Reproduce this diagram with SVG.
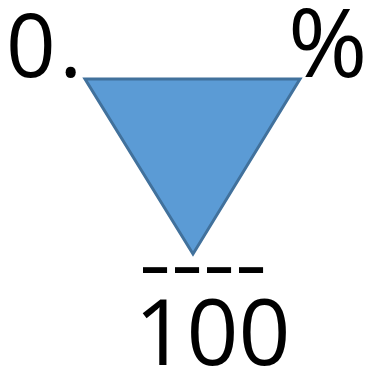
<svg xmlns="http://www.w3.org/2000/svg" width="366" height="376" viewBox="0 0 366 376">
<style>
.t{font-family:"Open Sans","Liberation Sans",sans-serif;fill:#000}
.tri{fill:#5B9BD5;stroke:#41719C;stroke-width:3;stroke-linejoin:miter}
</style>
<rect width="366" height="376" fill="#fff"/>
<g id="triangle"><polygon class="tri" points="85,79 300,79 193,254"/></g>
<g id="label-left"><text class="t" x="6" y="77" font-size="87" textLength="76" lengthAdjust="spacing">0.</text></g>
<g id="label-right"><text class="t" x="288" y="77" font-size="96">%</text></g>
<g id="dashes"><text class="t" x="139" y="292" font-size="80" textLength="128" lengthAdjust="spacingAndGlyphs">----</text></g>
<g id="label-bottom"><text class="t" x="212.5" y="365" font-size="91" text-anchor="middle">100</text></g>
</svg>
